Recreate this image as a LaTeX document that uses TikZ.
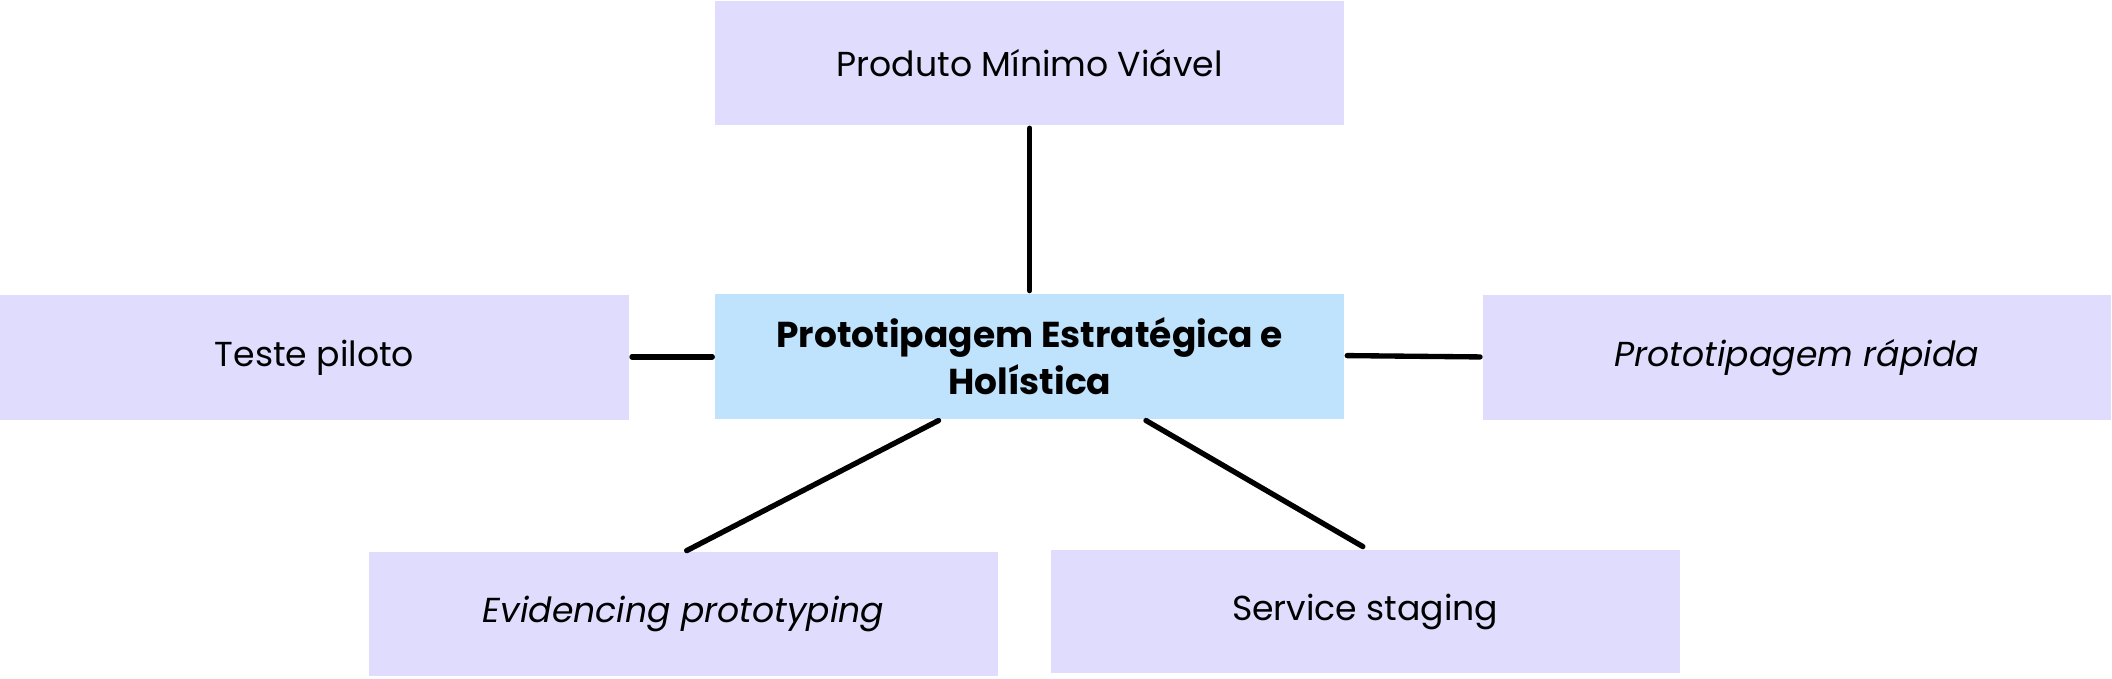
\documentclass[tikz,border=0pt]{standalone}
\usepackage{fontspec}
\setmainfont{Poppins}
\usetikzlibrary{calc}
\definecolor{lav}{HTML}{E0DCFD}
\definecolor{sky}{HTML}{BFE3FD}
\begin{document}
\begin{tikzpicture}[x=1.0102pt,y=-1.0102pt,
  box/.style={fill=lav,draw=none,inner sep=0pt,align=center,font=\fontsize{26}{33}\selectfont},
  link/.style={line width=4pt,line cap=round}]
\useasboundingbox[fill=white] (0,0) rectangle (1568,503.4);
\node[box,minimum width=467*1.0102pt,minimum height=92*1.0102pt] (top) at (764.5,47) {Produto Mínimo Viável};
\node[box,fill=sky,minimum width=467*1.0102pt,minimum height=93*1.0102pt,font=\fontsize{27}{35}\selectfont\bfseries] (c) at (764.5,264.5) {Prototipagem Estratégica e\\Holística};
\node[box,minimum width=467*1.0102pt,minimum height=93*1.0102pt] (l) at (233.5,265.5) {Teste piloto};
\node[box,minimum width=466*1.0102pt,minimum height=93*1.0102pt] (r) at (1334,265.5) {\itshape Prototipagem rápida};
\node[box,minimum width=467*1.0102pt,minimum height=92*1.0102pt] (bl) at (507.5,456) {\itshape Evidencing prototyping};
\node[box,minimum width=467*1.0102pt,minimum height=92*1.0102pt] (br) at (1013.5,454) {Service staging};
\draw[link] ($(top.south)+(0,2)$) -- ($(c.north)+(0,-2)$);
\draw[link] ($(l.east)+(2,-0.5)$) -- ($(c.west)+(-2,0.5)$);
\draw[link] ($(c.east)+(2,-0.5)$) -- ($(r.west)+(-2,-0.5)$);
\draw[link] ($(c.south west)+(166,1)$) -- ($(bl.north west)+(236,-1)$);
\draw[link] ($(c.south west)+(320,1)$) -- ($(br.north west)+(232,-2)$);
\end{tikzpicture}
\end{document}
